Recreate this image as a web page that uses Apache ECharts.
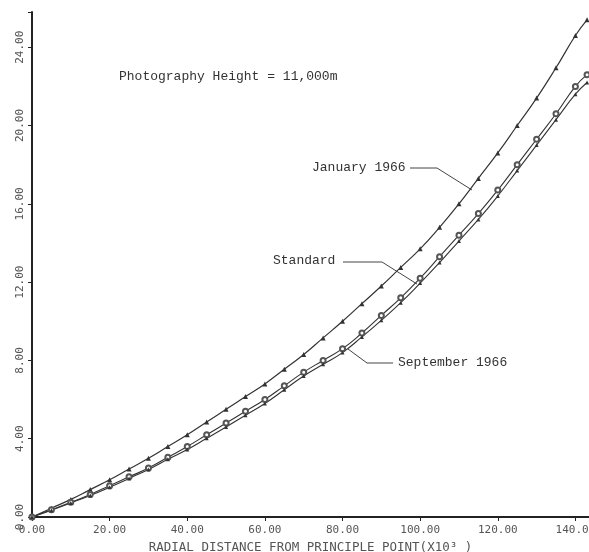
<!DOCTYPE html>
<html>
<head>
<meta charset="utf-8">
<script src="https://cdn.jsdelivr.net/npm/echarts@6/dist/echarts.min.js"></script>
<style>
html,body{margin:0;padding:0;background:#fff;}
#main{width:589px;height:552px;}
</style>
</head>
<body>
<div id="main"></div>
<script>
// radial distance (x10^3)
var xVals = [0,5,10,15,20,25,30,35,40,45,50,55,60,65,70,75,80,85,90,95,100,105,110,115,120,125,130,135,140,143];
// January 1966
var janVals = [0,0.45,0.9,1.4,1.9,2.45,3.0,3.6,4.2,4.85,5.5,6.15,6.8,7.55,8.3,9.15,10.0,10.9,11.8,12.75,13.7,14.8,16.0,17.3,18.6,20.0,21.4,22.95,24.6,25.4];
// Standard
var stdVals = [0,0.37,0.75,1.15,1.6,2.05,2.5,3.05,3.6,4.2,4.8,5.4,6.0,6.7,7.4,8.0,8.6,9.4,10.3,11.2,12.2,13.3,14.4,15.5,16.7,18.0,19.3,20.6,22.0,22.6];
// September 1966
var sepVals = [0,0.35,0.72,1.1,1.52,1.97,2.43,2.95,3.45,4.02,4.6,5.2,5.8,6.5,7.2,7.8,8.4,9.2,10.05,10.95,11.95,13.0,14.1,15.2,16.4,17.7,19.0,20.3,21.6,22.2];

var xTicks = [0,20,40,60,80,100,120,140];
var yTicks = [0,4,8,12,16,20,24];

function pairs(ys){
	var out = [];
	for(var i=0;i<xVals.length;i++){ out.push([xVals[i], ys[i]]); }
	return out;
}

var chart = echarts.init(document.getElementById('main'));
var lineCol = '#333';

chart.setOption({
	backgroundColor:'#fff',
	animation:false,
	grid:{left:32, top:12, width:557, height:505, outerBoundsMode:'none', containLabel:false},
	xAxis:{
		type:'value', min:0, max:143.5, interval:20,
		name:'RADIAL DISTANCE FROM PRINCIPLE POINT(X10\u00b3 )',
		nameLocation:'middle', nameGap:22,
		nameTextStyle:{fontFamily:'DejaVu Sans Mono', fontSize:12.5, color:'#555'},
		axisLine:{lineStyle:{color:'#222', width:2}},
		axisTick:{length:4, lineStyle:{color:'#222'}},
		splitLine:{show:false},
		axisLabel:{
			fontFamily:'DejaVu Sans Mono', fontSize:11, color:'#555', margin:8,
			formatter:function(v){ return xTicks.indexOf(v) >= 0 ? v.toFixed(2) : ''; }
		}
	},
	yAxis:{
		type:'value', min:0, max:25.8, interval:4,
		axisLine:{show:true, lineStyle:{color:'#222', width:2}},
		axisTick:{show:true, length:4, lineStyle:{color:'#222'}},
		splitLine:{show:false},
		axisLabel:{
			rotate:90, fontFamily:'DejaVu Sans Mono', fontSize:11, color:'#555', margin:6,
			formatter:function(v){ return yTicks.indexOf(v) >= 0 ? v.toFixed(2) : ''; }
		}
	},
	series:[
		{
			name:'January 1966', type:'line', smooth:true,
			data:pairs(janVals),
			symbol:'triangle', symbolSize:5,
			lineStyle:{color:lineCol, width:1.2},
			itemStyle:{color:lineCol}
		},
		{
			name:'Standard', type:'line', smooth:true,
			data:pairs(stdVals),
			symbol:'emptyCircle', symbolSize:5,
			lineStyle:{color:lineCol, width:1.1},
			itemStyle:{color:'#555', borderWidth:0.8}
		},
		{
			name:'September 1966', type:'line', smooth:true,
			data:pairs(sepVals),
			symbol:'triangle', symbolSize:4,
			lineStyle:{color:lineCol, width:1.1},
			itemStyle:{color:lineCol}
		}
	],
	graphic:[
		{type:'text', left:119, top:70, style:{text:'Photography Height = 11,000m', font:'13px "Liberation Mono"', fill:'#333'}},
		// January label + leader
		{type:'text', left:312, top:161, style:{text:'January 1966', font:'13px "Liberation Mono"', fill:'#333'}},
		{type:'polyline', shape:{points:[[410,168],[437,168],[472,190]]}, style:{stroke:'#444', lineWidth:1, fill:null}},
		// Standard label + leader
		{type:'text', left:273, top:254, style:{text:'Standard', font:'13px "Liberation Mono"', fill:'#333'}},
		{type:'polyline', shape:{points:[[343,262],[382,262],[417,284]]}, style:{stroke:'#444', lineWidth:1, fill:null}},
		// September label + leader
		{type:'text', left:398, top:356, style:{text:'September 1966', font:'13px "Liberation Mono"', fill:'#333'}},
		{type:'polyline', shape:{points:[[393,363],[367,363],[348,349]]}, style:{stroke:'#444', lineWidth:1, fill:null}}
	]
});
</script>
</body>
</html>
